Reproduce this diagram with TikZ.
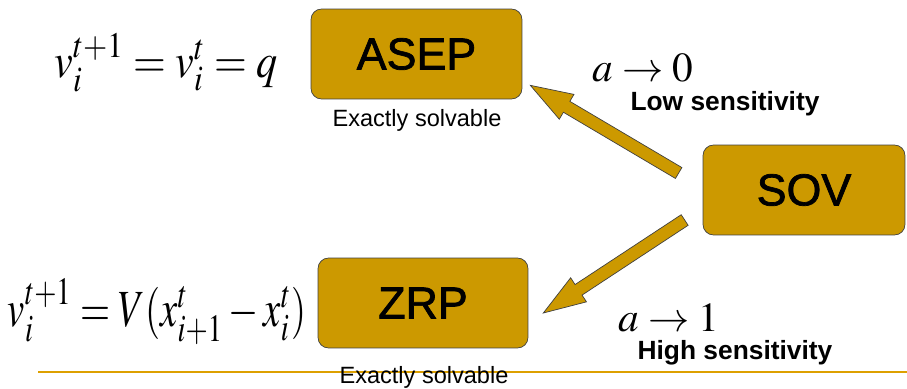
\documentclass[tikz,border=0pt]{standalone}
\usepackage{mathptmx}
\usepackage{fontspec}
\setmainfont{Liberation Sans}
\usetikzlibrary{calc}
\definecolor{boxgold}{RGB}{204,153,0}
\definecolor{ruleline}{RGB}{221,160,0}

\begin{document}
\begin{tikzpicture}[x=0.02cm,y=-0.02cm,line join=miter,
  model/.style={draw=black!75,fill=boxgold,rounded corners=6pt,minimum width=4.22cm,minimum height=1.8cm,inner sep=0pt,font=\fontsize{25.5}{30}\selectfont\addfontfeature{FakeBold=1.6}},
  note/.style={font=\fontsize{13.4}{16}\selectfont},
  sens/.style={font=\bfseries\fontsize{15}{18}\selectfont},
  eqn/.style={anchor=base,font=\fontsize{22}{26}\selectfont},
  limit/.style={font=\fontsize{23.5}{28}\selectfont},
  fatarrow/.style={draw=black!75,fill=boxgold,to path={let \p1=(\tikztostart),\p2=(\tikztotarget),\p3=($(\p2)!24pt!(\p1)$) in
    ($(\p1)!3.6pt!90:(\p2)$) -- ($(\p3)!3.6pt!-90:(\p1)$) -- ($(\p3)!8.2pt!-90:(\p1)$) -- (\p2)
    -- ($(\p3)!8.2pt!90:(\p1)$) -- ($(\p3)!3.6pt!90:(\p1)$) -- ($(\p1)!3.6pt!-90:(\p2)$) -- cycle}}]
\useasboundingbox (0,0) rectangle (907,389);
\draw[ruleline,line width=1.5pt] (38,372) -- (907,372);
\node[model] (asep) at (416.5,54) {ASEP};
\node[model,minimum width=4.04cm] (sov) at (804,190) {SOV};
\node[model,minimum width=4.2cm] (zrp) at (423,303) {ZRP};
\node[note] (asepnote) at (417,120) {Exactly solvable};
\node[note] (zrpnote) at (424,377) {Exactly solvable};
\node[eqn,font=\fontsize{24}{28}\selectfont,yscale=1.15] (asepeq) at (166,77) {$v_i^{t+1}=v_i^t=q$};
\node[eqn,yscale=1.35] (zrpeq) at (157,326) {$v_i^{t+1}=V(x_{i+1}^t-x_i^t)$};
\node[limit] (lowa) at (643,68) {$a\to0$};
\node[sens] (lowtxt) at (725,104) {Low sensitivity};
\node[limit] (higha) at (669,318) {$a\to1$};
\node[sens] (hightxt) at (735,353) {High sensitivity};
\coordinate (upTail) at ($(sov.west)+(-24,-17)$);
\coordinate (upTip) at ($(asep.south east)+(8,-14)$);
\coordinate (downTail) at ($(sov.west)+(-18,30)$);
\coordinate (downTip) at ($(zrp.east)+(15,10)$);
\draw[fatarrow] (upTail) to (upTip);
\draw[fatarrow] (downTail) to (downTip);
\end{tikzpicture}
\end{document}
